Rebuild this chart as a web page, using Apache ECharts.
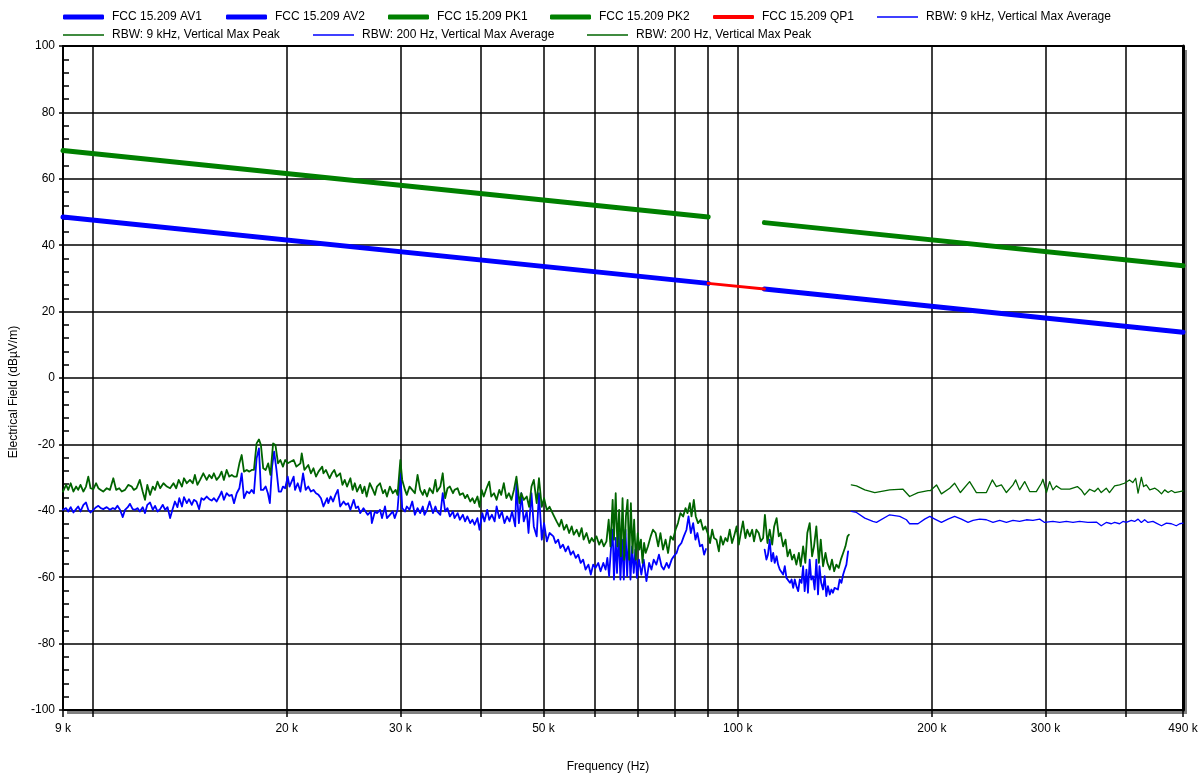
<!DOCTYPE html>
<html>
<head>
<meta charset="utf-8">
<script src="https://cdn.jsdelivr.net/npm/echarts@6/dist/echarts.min.js"></script>
<style>html,body{margin:0;padding:0;background:#fff}#chart{width:1200px;height:773px}</style>
</head>
<body>
<div id="chart"></div>
<script>
// ---- axis ticks / labels (Hz) ----
const freqGridTicks = [9000, 10000, 20000, 30000, 40000, 50000, 60000, 70000, 80000, 90000, 100000, 200000, 300000, 400000, 490000];
const freqLabels = [9000, 20000, 30000, 50000, 100000, 200000, 300000, 490000];

// ---- limit lines [kHz, dBuV/m] ----
const limitAV1 = [[9, 48.5], [90, 28.5]];
const limitAV2 = [[110, 26.8], [490, 13.8]];
const limitPK1 = [[9, 68.5], [90, 48.5]];
const limitPK2 = [[110, 46.8], [490, 33.8]];
const limitQP1 = [[90, 28.5], [110, 26.8]];

// ---- RBW 200 Hz, Vertical Max Peak [kHz, dBuV/m] ----
const rbw200Peak = [
[9.00,-34.2],[9.10,-32.2],[9.17,-33.7],[9.25,-31.7],[9.34,-34.2],[9.43,-32.7],[9.50,-33.7],[9.58,-32.2],[9.68,-34.2],[9.77,-32.7],
[9.85,-29.7],[9.93,-33.2],[10.03,-33.5],[10.13,-31.7],[10.21,-33.2],[10.30,-33.7],[10.39,-34.2],[10.52,-33.2],[10.64,-33.7],[10.77,-30.2],
[10.88,-33.7],[11.00,-33.2],[11.10,-34.2],[11.23,-33.7],[11.36,-32.2],[11.50,-32.7],[11.59,-33.7],[11.70,-33.2],[11.84,-30.7],[11.96,-34.2],
[12.06,-36.7],[12.16,-32.2],[12.28,-35.2],[12.40,-32.7],[12.50,-33.7],[12.61,-31.2],[12.73,-33.2],[12.88,-31.7],[13.04,-32.7],[13.19,-33.2],
[13.35,-31.7],[13.48,-33.2],[13.60,-30.7],[13.76,-32.7],[13.86,-30.2],[14.00,-31.7],[14.16,-30.7],[14.30,-31.7],[14.41,-29.2],[14.54,-32.2],
[14.68,-30.7],[14.85,-28.7],[15.03,-30.7],[15.17,-29.2],[15.30,-30.2],[15.42,-28.7],[15.57,-30.7],[15.72,-29.7],[15.85,-28.2],[15.98,-30.7],
[16.14,-27.7],[16.29,-29.7],[16.44,-29.2],[16.57,-29.7],[16.73,-29.7],[16.89,-25.7],[17.03,-23.2],[17.17,-28.2],[17.34,-27.7],[17.50,-28.2],
[17.65,-27.7],[17.79,-27.7],[17.96,-19.7],[18.11,-18.5],[18.24,-20.2],[18.39,-27.2],[18.55,-27.7],[18.72,-25.7],[18.87,-29.2],[19.05,-19.7],
[19.21,-20.2],[19.39,-25.7],[19.55,-24.7],[19.73,-26.7],[19.89,-24.7],[20.07,-25.7],
[20.2,-25.2],[20.5,-24.7],[20.7,-26.7],[21.0,-25.7],[21.1,-22.7],[21.3,-27.7],[21.6,-26.2],[21.8,-28.7],[22.0,-27.2],[22.2,-29.7],
[22.4,-28.2],[22.7,-26.7],[22.8,-28.7],[23.0,-27.7],[23.3,-30.2],[23.5,-28.7],[23.7,-27.7],[23.9,-29.7],[24.2,-28.7],[24.4,-32.2],
[24.6,-30.7],[24.8,-32.7],[25.1,-30.2],[25.3,-33.7],[25.5,-31.7],[25.7,-34.2],[26.0,-32.2],[26.2,-34.7],[26.4,-32.7],[26.6,-35.7],
[26.9,-31.7],[27.2,-33.7],[27.4,-35.2],[27.6,-32.7],[27.9,-31.7],[28.2,-34.7],[28.4,-33.7],[28.6,-35.7],[28.9,-32.7],[29.2,-34.7],
[29.5,-33.7],[29.7,-35.2],[30.0,-24.7],[30.2,-30.7],[30.5,-33.7],[30.7,-35.2],[31.0,-32.7],[31.3,-33.7],[31.6,-34.7],[31.9,-29.2],
[32.2,-33.7],[32.5,-35.2],[32.7,-33.7],[33.0,-35.7],[33.3,-33.2],[33.7,-34.7],[34.0,-30.7],[34.2,-34.2],[34.6,-32.7],[34.9,-28.7],
[35.2,-36.2],[35.5,-33.2],[35.8,-32.7],[36.2,-34.7],[36.4,-33.7],[36.8,-33.2],[37.1,-35.2],[37.5,-34.7],[37.8,-36.2],[38.1,-35.2],
[38.5,-37.2],[38.8,-36.2],[39.1,-37.7],[39.5,-35.7],[39.8,-38.8],[40.1,-33.7],[40.4,-35.7],[40.8,-33.2],[41.2,-31.2],[41.5,-35.7],
[41.9,-34.7],[42.3,-36.7],[42.7,-33.7],[43.0,-35.2],[43.4,-31.7],[43.8,-36.2],[44.2,-34.7],[44.6,-36.7],[45.0,-33.7],[45.4,-29.7],
[45.9,-37.7],[46.2,-34.7],[46.6,-36.7],[47.1,-35.7],[47.5,-38.8],[47.9,-32.7],[48.3,-30.7],[48.8,-37.7],[49.2,-30.2],[49.7,-38.8],
[50.1,-36.2],[50.6,-39.8],[51.1,-38.8],
[51.8,-41.2],[52.4,-43.2],[52.9,-44.7],[53.3,-42.7],[53.8,-45.7],[54.3,-44.2],[54.8,-46.7],[55.3,-44.7],[55.7,-47.2],[56.3,-45.7],
[56.8,-47.7],[57.3,-45.2],[57.7,-48.7],[58.3,-46.7],[58.9,-49.7],[59.4,-48.2],[59.8,-49.2],[60.4,-47.7],[61.0,-50.2],[61.5,-48.7],
[62.0,-50.7],[62.6,-49.2],[63.1,-42.7],[63.5,-50.7],[64.0,-36.7],[64.3,-48.7],[64.7,-34.7],[65.1,-50.7],[65.5,-39.7],[65.9,-53.7],
[66.3,-36.2],[66.7,-54.7],[67.1,-41.7],[67.5,-36.7],[67.9,-54.7],[68.3,-37.7],[68.7,-52.7],[69.1,-42.7],[69.5,-54.7],[70.0,-46.7],
[70.4,-51.7],[70.8,-48.7],[71.2,-55.7],[71.6,-49.7],[72.0,-52.7],[72.6,-50.7],[73.3,-47.7],[73.9,-45.7],[74.6,-46.7],[75.3,-50.7],
[75.9,-46.7],[76.6,-51.7],[77.3,-48.7],[78.0,-52.7],[78.7,-47.7],[79.4,-48.7],[80.1,-45.7],[80.8,-43.7],[81.5,-40.7],[82.3,-41.7],
[83.0,-39.2],[83.6,-40.7],[84.3,-37.7],[84.8,-41.7],[85.5,-36.7],[86.1,-41.7],[86.8,-43.7],[87.6,-42.7],[88.4,-45.7],[89.1,-44.7],
[90.0,-47.2],
[90.6,-49.7],[91.3,-45.7],[91.9,-48.2],[92.7,-48.7],[93.5,-52.2],[94.1,-47.7],[94.9,-50.2],[95.7,-48.2],[96.4,-49.2],[97.2,-45.7],
[98.0,-49.7],[98.7,-47.7],[99.6,-44.7],[100.4,-50.2],[101.1,-46.7],[101.9,-43.2],[102.8,-48.2],[103.5,-45.7],[104.4,-47.7],[105.3,-45.7],
[106.0,-49.2],[106.9,-45.7],[107.8,-46.7],[108.6,-49.2],[109.5,-48.2],[110.2,-41.2],[111.2,-49.7],[112.1,-45.7],[113.1,-50.2],[113.9,-44.7],
[114.9,-42.2],[115.8,-47.7],[116.6,-46.7],[117.6,-50.7],[118.6,-48.7],[119.5,-53.7],[120.5,-51.7],[121.4,-54.7],[122.3,-53.2],[123.3,-56.2],
[124.4,-52.7],[125.2,-56.7],[126.3,-50.7],[127.3,-55.7],[128.2,-46.7],[129.3,-43.7],[130.4,-53.7],[131.3,-50.7],[132.4,-44.7],[133.6,-55.7],
[134.5,-48.7],[135.6,-56.7],[136.8,-52.7],[137.7,-55.7],[138.9,-57.7],[140.0,-54.7],[141.1,-58.2],[142.2,-56.2],[143.4,-57.2],[144.5,-54.7],
[145.7,-52.7],[146.9,-50.7],[148.0,-47.7],[148.7,-47.2]
];

// ---- RBW 200 Hz, Vertical Max Average, below 90 kHz [kHz, dBuV/m] ----
const rbw200AvgLow = [
[9.00,-39.7],[9.10,-39.2],[9.17,-40.2],[9.25,-38.9],[9.34,-40.5],[9.43,-39.5],[9.50,-38.7],[9.58,-40.2],[9.68,-38.2],[9.77,-37.5],
[9.85,-39.7],[9.93,-40.5],[10.03,-39.7],[10.13,-38.9],[10.21,-38.5],[10.30,-39.2],[10.39,-39.5],[10.52,-38.9],[10.64,-39.7],[10.75,-39.2],
[10.84,-39.5],[10.93,-38.5],[11.03,-39.7],[11.14,-41.9],[11.23,-39.7],[11.34,-38.9],[11.43,-37.9],[11.54,-39.5],[11.64,-39.7],[11.74,-39.2],
[11.84,-40.2],[11.96,-38.9],[12.06,-40.7],[12.16,-38.2],[12.28,-37.5],[12.40,-39.7],[12.50,-38.5],[12.61,-40.2],[12.73,-39.5],[12.85,-38.2],
[12.96,-39.7],[13.07,-38.9],[13.19,-42.2],[13.30,-39.7],[13.42,-37.2],[13.54,-38.9],[13.63,-36.2],[13.76,-38.7],[13.86,-35.9],[14.00,-37.7],
[14.11,-36.5],[14.25,-38.2],[14.36,-36.7],[14.49,-37.2],[14.63,-39.5],[14.75,-36.2],[14.87,-36.7],[15.03,-35.7],[15.17,-36.5],[15.30,-36.9],
[15.42,-36.2],[15.57,-37.2],[15.72,-35.7],[15.85,-34.2],[15.98,-36.7],[16.14,-34.7],[16.29,-35.5],[16.44,-35.2],[16.57,-37.7],[16.73,-34.7],
[16.89,-33.2],[17.03,-28.7],[17.17,-36.2],[17.34,-34.2],[17.50,-34.7],[17.65,-33.7],[17.79,-34.7],[17.96,-24.2],[18.11,-21.2],[18.24,-33.7],
[18.39,-33.7],[18.55,-32.7],[18.70,-34.7],[18.83,-37.7],[18.98,-26.7],[19.12,-22.2],[19.28,-27.7],[19.44,-34.2],[19.60,-34.2],[19.73,-32.7],
[19.89,-33.2],[20.07,-29.7],
[20.2,-32.7],[20.5,-29.7],[20.6,-33.7],[20.8,-31.7],[21.0,-34.2],[21.2,-28.7],[21.4,-33.7],[21.6,-32.7],[21.8,-34.2],[22.0,-33.7],
[22.2,-34.7],[22.4,-35.2],[22.6,-36.2],[22.8,-38.7],[23.1,-36.2],[23.2,-37.7],[23.4,-35.7],[23.6,-37.2],[23.8,-35.2],[24.0,-33.7],
[24.2,-38.7],[24.5,-37.2],[24.7,-38.2],[24.9,-37.7],[25.1,-39.7],[25.4,-36.7],[25.6,-39.2],[25.8,-38.7],[26.0,-40.7],[26.3,-39.2],
[26.5,-40.2],[26.7,-41.2],[27.0,-40.2],[27.1,-43.7],[27.4,-40.2],[27.6,-40.7],[27.9,-39.7],[28.1,-42.2],[28.4,-38.7],[28.6,-42.2],
[28.9,-41.2],[29.2,-40.2],[29.4,-42.2],[29.7,-39.7],[30.0,-28.7],[30.2,-39.2],[30.5,-40.2],[30.7,-38.7],[31.0,-39.7],[31.3,-37.2],
[31.6,-41.2],[31.9,-39.2],[32.2,-40.7],[32.5,-38.7],[32.7,-41.2],[33.0,-39.7],[33.3,-37.2],[33.7,-40.7],[34.0,-38.7],[34.2,-40.2],
[34.6,-41.2],[34.9,-34.7],[35.2,-40.2],[35.5,-39.2],[35.8,-41.7],[36.2,-40.2],[36.4,-42.2],[36.8,-40.7],[37.1,-42.7],[37.5,-41.2],
[37.8,-43.2],[38.1,-41.7],[38.5,-43.7],[38.8,-42.7],[39.1,-44.2],[39.5,-42.2],[39.8,-45.7],[40.2,-40.7],[40.5,-43.2],[40.9,-39.7],
[41.2,-42.7],[41.6,-41.2],[42.0,-43.2],[42.3,-38.7],[42.7,-42.2],[43.1,-40.2],[43.5,-43.7],[43.9,-41.7],[44.3,-43.2],[44.7,-40.2],
[45.2,-44.7],[45.4,-31.7],[45.8,-43.7],[46.2,-34.7],[46.6,-43.2],[47.1,-40.2],[47.4,-46.7],[47.9,-34.7],[48.3,-44.7],[48.8,-47.7],
[49.2,-34.7],[49.7,-48.7],[50.1,-43.7],[50.6,-49.2],[51.1,-46.7],
[51.8,-47.7],[52.2,-49.7],[52.7,-48.7],[53.1,-51.2],[53.6,-50.2],[54.1,-52.2],[54.6,-50.7],[55.1,-53.2],[55.6,-52.2],[56.1,-54.2],
[56.6,-53.2],[57.1,-55.7],[57.6,-54.7],[58.1,-57.7],[58.7,-56.2],[59.2,-59.2],[59.7,-56.2],[60.2,-57.2],[60.8,-55.7],[61.3,-58.2],
[61.9,-55.7],[62.4,-57.7],[62.8,-54.2],[63.2,-59.7],[63.6,-51.7],[64.0,-45.7],[64.3,-60.7],[64.7,-48.2],[65.0,-58.7],[65.4,-46.7],
[65.8,-60.7],[66.2,-48.7],[66.6,-60.7],[67.0,-45.7],[67.4,-59.7],[67.8,-46.7],[68.2,-60.7],[68.6,-50.7],[69.0,-58.7],[69.4,-51.7],
[69.8,-60.2],[70.3,-54.7],[70.9,-59.2],[71.5,-54.7],[72.2,-61.2],[72.9,-55.7],[73.5,-57.7],[74.1,-54.7],[74.8,-56.2],[75.5,-53.2],
[76.2,-56.7],[76.8,-57.7],[77.6,-55.7],[78.2,-57.2],[79.0,-54.7],[79.6,-53.7],[80.4,-52.7],[81.0,-50.7],[81.8,-49.7],[82.5,-47.7],
[83.3,-45.7],[83.9,-41.7],[84.6,-46.7],[85.3,-43.7],[86.0,-48.7],[86.6,-46.7],[87.4,-50.7],[88.1,-50.2],[88.7,-53.2],[89.3,-51.5]
];

// ---- RBW 200 Hz, Vertical Max Average, above 110 kHz [kHz, dBuV/m] ----
const rbw200AvgHigh = [
[110.1,-51.7],[110.8,-54.7],[111.4,-53.2],[112.1,-48.7],[112.8,-55.2],[113.5,-52.7],[114.1,-55.7],[114.9,-53.7],[115.5,-56.2],[116.2,-57.7],
[116.9,-57.2],[117.6,-59.2],[118.3,-56.7],[119.0,-60.2],[119.7,-59.7],[120.5,-61.7],[121.2,-60.7],[121.9,-63.2],[122.6,-60.7],[123.3,-62.7],
[124.1,-64.2],[124.8,-60.7],[125.6,-61.7],[126.3,-56.7],[127.0,-64.2],[127.8,-57.7],[128.5,-64.7],[129.3,-54.7],[130.0,-60.7],[130.8,-59.7],
[131.6,-63.7],[132.4,-54.7],[133.2,-65.2],[133.9,-56.7],[134.7,-61.7],[135.6,-63.7],[136.4,-59.7],[137.2,-65.7],[138.0,-62.7],[138.9,-65.2],
[139.7,-63.7],[140.5,-64.7],[141.3,-63.2],[142.2,-62.7],[143.0,-63.7],[143.9,-60.7],[144.8,-61.7],[145.7,-59.2],[146.5,-57.7],[147.4,-56.2],
[148.3,-52.2]
];

// ---- RBW 9 kHz, Vertical Max Peak [kHz, dBuV/m] ----
const rbw9Peak = [
[150.0,-32.2],[152.8,-32.5],[157.4,-33.7],[163.1,-34.5],[172.0,-33.7],[180.4,-33.5],[184.7,-35.7],[190.3,-34.5],[197.3,-33.9],[199.0,-33.9],
[203.3,-32.2],[206.9,-34.9],[213.1,-33.2],[216.9,-31.7],[221.4,-34.5],[228.8,-31.2],[234.4,-34.5],[242.9,-34.5],[248.1,-30.7],[251.7,-32.7],
[256.3,-32.2],[260.9,-34.5],[267.1,-32.2],[269.7,-30.7],[273.5,-33.7],[278.5,-31.2],[283.5,-34.2],[290.3,-34.2],[295.6,-31.7],[297.2,-30.5],
[301.0,-34.5],[304.4,-31.2],[308.0,-33.7],[311.8,-32.5],[317.4,-33.5],[327.0,-33.5],[336.1,-32.7],[340.8,-33.7],[344.9,-35.2],[351.2,-33.5],
[357.5,-34.2],[361.8,-33.2],[366.0,-34.5],[372.6,-33.2],[376.9,-34.5],[383.9,-32.5],[390.7,-32.2],[397.6,-31.7],[404.8,-30.7],[409.6,-31.5],
[413.8,-30.2],[417.4,-34.7],[422.3,-29.9],[425.7,-32.7],[429.9,-32.2],[435.2,-33.7],[443.3,-33.2],[448.5,-33.9],[453.8,-34.9],[459.0,-33.7],
[464.6,-34.5],[470.2,-33.9],[475.6,-34.5],[484.4,-34.2],[490.0,-34.0]
];

// ---- RBW 9 kHz, Vertical Max Average [kHz, dBuV/m] ----
const rbw9Avg = [
[150.0,-40.2],[152.8,-40.5],[157.4,-42.2],[162.0,-43.2],[164.1,-43.5],[172.0,-41.2],[178.3,-41.7],[182.6,-42.7],[184.7,-43.9],[190.3,-43.9],
[194.9,-42.5],[198.5,-41.7],[202.1,-42.5],[206.9,-43.5],[211.8,-42.5],[216.9,-41.7],[222.2,-42.5],[227.5,-43.5],[231.6,-42.9],[237.2,-42.5],
[242.9,-42.7],[248.7,-43.5],[254.7,-42.9],[260.9,-43.5],[267.1,-42.9],[273.5,-43.2],[280.2,-42.7],[286.8,-42.9],[293.8,-42.5],[299.0,-43.5],
[308.0,-43.2],[315.5,-43.5],[323.1,-43.2],[330.9,-43.5],[338.8,-43.2],[349.0,-43.5],[359.7,-43.4],[366.0,-44.5],[372.6,-43.5],[379.4,-43.9],
[383.9,-43.5],[390.7,-43.9],[395.5,-43.2],[400.1,-43.5],[407.5,-42.9],[412.3,-43.2],[417.4,-42.5],[422.3,-43.5],[427.3,-42.7],[432.4,-43.5],
[440.2,-43.2],[445.4,-43.7],[453.8,-44.5],[461.8,-43.7],[470.2,-43.9],[478.4,-44.5],[484.4,-43.9],[490.0,-43.7]
];

// ---------------------------------------------------------------
const FONT = '"Liberation Sans", Arial, Helvetica, sans-serif';
const toHz = arr => arr.map(p => [p[0] * 1000, p[1]]);

function lineSeries(name, data, color, width) {
  return {
    name, type: 'line', data, symbol: 'none', showSymbol: false,
    connectNulls: false, silent: true, animation: false,
    lineStyle: { color, width, cap: 'round', join: 'round' },
    itemStyle: { color }
  };
}

const COL_BLUE = '#0000ff', COL_LIM_GREEN = '#008000', COL_RED = '#ff0000', COL_MEAS_GREEN = '#006400';

const series = [
  lineSeries('RBW: 200 Hz, Vertical Max Average', toHz(rbw200AvgLow).concat([[100000, '-']], toHz(rbw200AvgHigh)), COL_BLUE, 1.8),
  lineSeries('RBW: 200 Hz, Vertical Max Peak', toHz(rbw200Peak), COL_MEAS_GREEN, 1.8),
  lineSeries('RBW: 9 kHz, Vertical Max Average', toHz(rbw9Avg), COL_BLUE, 1.3),
  lineSeries('RBW: 9 kHz, Vertical Max Peak', toHz(rbw9Peak), COL_MEAS_GREEN, 1.3),
  lineSeries('FCC 15.209 AV1', toHz(limitAV1), COL_BLUE, 5),
  lineSeries('FCC 15.209 AV2', toHz(limitAV2), COL_BLUE, 5),
  lineSeries('FCC 15.209 PK1', toHz(limitPK1), COL_LIM_GREEN, 5),
  lineSeries('FCC 15.209 PK2', toHz(limitPK2), COL_LIM_GREEN, 5),
  lineSeries('FCC 15.209 QP1', toHz(limitQP1), COL_RED, 3)
];

// legend layout (two rows, item positions)
const legendLayout = [
  { name: 'FCC 15.209 AV1', left: 63, cy: 16, h: 5 },
  { name: 'FCC 15.209 AV2', left: 226, cy: 16, h: 5 },
  { name: 'FCC 15.209 PK1', left: 388, cy: 16, h: 5 },
  { name: 'FCC 15.209 PK2', left: 550, cy: 16, h: 5 },
  { name: 'FCC 15.209 QP1', left: 713, cy: 16, h: 4 },
  { name: 'RBW: 9 kHz, Vertical Max Average', left: 877, cy: 16, h: 1.5 },
  { name: 'RBW: 9 kHz, Vertical Max Peak', left: 63, cy: 34, h: 1.5 },
  { name: 'RBW: 200 Hz, Vertical Max Average', left: 313, cy: 34, h: 1.5 },
  { name: 'RBW: 200 Hz, Vertical Max Peak', left: 587, cy: 34, h: 1.5 }
];

const legends = legendLayout.map(it => ({
  data: [it.name],
  left: it.left,
  top: it.cy - 5,
  orient: 'horizontal',
  padding: 0,
  itemWidth: 41,
  itemHeight: it.h,
  icon: it.h >= 4 ? 'roundRect' : 'rect',
  selectedMode: false,
  textStyle: { color: '#000', fontSize: 12, fontFamily: FONT, padding: [0, 0, 0, 3] }
}));

const chart = echarts.init(document.getElementById('chart'), null, { renderer: 'canvas' });
chart.setOption({
  animation: false,
  backgroundColor: '#fff',
  legend: legends,
  grid: {
    left: 63, right: 17, top: 46, bottom: 63,
    show: true, backgroundColor: '#fff', borderWidth: 0, borderColor: 'transparent',
    shadowColor: '#808080', shadowOffsetX: 4, shadowOffsetY: 4, shadowBlur: 0,
    outerBoundsMode: 'none', containLabel: false
  },
  xAxis: [
    {
      type: 'log', logBase: 10, min: 9000, max: 490000, position: 'bottom',
      name: 'Frequency (Hz)', nameLocation: 'middle', nameGap: 51,
      nameTextStyle: { color: '#000', fontSize: 12, fontFamily: FONT, padding: [0, 30, 0, 0] },
      axisLine: { show: true, onZero: false, lineStyle: { color: '#000', width: 2 } },
      axisTick: { show: true, customValues: freqGridTicks, length: 7, lineStyle: { color: '#000', width: 1.5 } },
      axisLabel: { show: true, customValues: freqLabels, color: '#000', fontSize: 12, fontFamily: FONT, margin: 13,
        formatter: v => Math.round(v / 1000) + ' k' },
      splitLine: { show: true, lineStyle: { color: '#000', width: 1.5 } },
      minorTick: { show: false }, minorSplitLine: { show: false }
    },
    {
      type: 'log', logBase: 10, min: 9000, max: 490000, position: 'top',
      axisLine: { show: true, onZero: false, lineStyle: { color: '#000', width: 2 } },
      axisTick: { show: false }, axisLabel: { show: false }, splitLine: { show: false }
    }
  ],
  yAxis: [
    {
      type: 'value', min: -100, max: 100, interval: 20, position: 'left',
      name: 'Electrical Field (dBµV/m)', nameLocation: 'middle', nameGap: 42,
      nameTextStyle: { color: '#000', fontSize: 12, fontFamily: FONT, padding: [0, 28, 0, 0] },
      axisLine: { show: true, onZero: false, lineStyle: { color: '#000', width: 2 } },
      axisTick: { show: true, length: 4, lineStyle: { color: '#000', width: 1.5 } },
      axisLabel: { color: '#000', fontSize: 12, fontFamily: FONT, margin: 8 },
      splitLine: { show: true, lineStyle: { color: '#000', width: 1.5 } }
    },
    {
      type: 'value', min: -100, max: 100, interval: 20, position: 'left',
      axisLine: { show: false, onZero: false },
      axisTick: { show: false, inside: true },
      minorTick: { show: true, splitNumber: 5, length: 6, lineStyle: { color: '#000', width: 1.5 } },
      axisLabel: { show: false },
      splitLine: { show: false }
    },
    {
      type: 'value', min: -100, max: 100, interval: 20, position: 'right',
      axisLine: { show: true, onZero: false, lineStyle: { color: '#000', width: 3 } },
      axisTick: { show: false }, axisLabel: { show: false }, splitLine: { show: false }
    }
  ],
  series
});
</script>
</body>
</html>
